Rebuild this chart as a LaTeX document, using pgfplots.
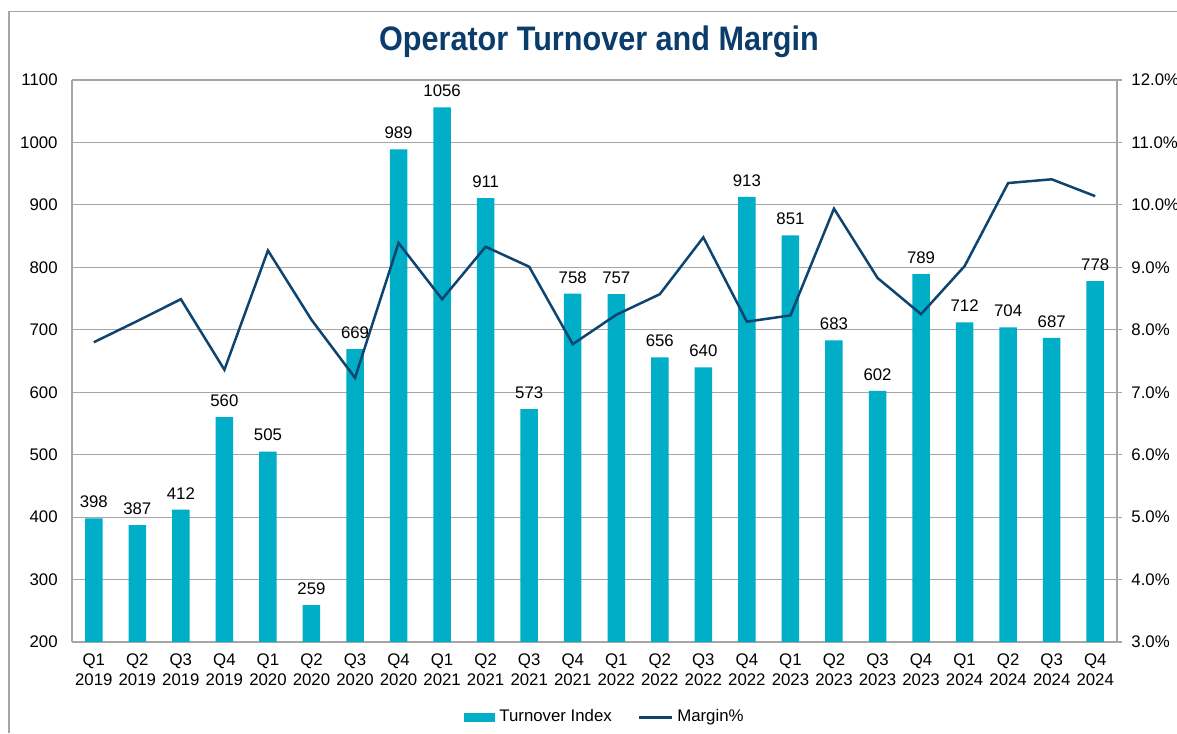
\documentclass[border=0pt]{standalone}
\usepackage{fontspec}
\setmainfont{Liberation Sans}
\newfontfamily\titlefont[FakeStretch=0.9]{Liberation Sans}
\usepackage{pgfplots}
\pgfplotsset{compat=1.18}
\usepackage{pgfplotstable}
\definecolor{barc}{RGB}{0,174,199}
\definecolor{linec}{RGB}{14,68,112}
\definecolor{titlec}{RGB}{10,61,107}
\definecolor{gridc}{RGB}{166,166,166}
\pgfplotstableread{
x turnover margin
0 398 7.80
1 387 8.14
2 412 8.49
3 560 7.36
4 505 9.27
5 259 8.16
6 669 7.23
7 989 9.39
8 1056 8.49
9 911 9.33
10 573 9.01
11 758 7.77
12 757 8.24
13 656 8.57
14 640 9.48
15 913 8.13
16 851 8.23
17 683 9.94
18 602 8.83
19 789 8.25
20 712 9.02
21 704 10.35
22 687 10.41
23 778 10.14
}\datatable
\newcommand{\tf}{\fontsize{8.4}{10}\selectfont}
\begin{document}
\begin{tikzpicture}
\useasboundingbox (-36pt,-45.5pt) rectangle (552.5pt,321pt);
\draw[gridc, line width=0.6pt] (-31.5pt,-45.5pt) -- (-31.5pt,315.2pt) -- (552.5pt,315.2pt);
\node[font=\titlefont\fontsize{17}{19}\selectfont\bfseries, text=titlec] at (263.5pt,300pt) {Operator Turnover and Margin};
\begin{axis}[
  at={(0,0)}, anchor=south west,
  scale only axis, width=522.5pt, height=281pt,
  xmin=-0.5, xmax=23.5, ymin=200, ymax=1100,
  ytick={200,300,...,1100},
  xtick=data,
  xticklabels={{Q1\\2019},{Q2\\2019},{Q3\\2019},{Q4\\2019},{Q1\\2020},{Q2\\2020},{Q3\\2020},{Q4\\2020},{Q1\\2021},{Q2\\2021},{Q3\\2021},{Q4\\2021},{Q1\\2022},{Q2\\2022},{Q3\\2022},{Q4\\2022},{Q1\\2023},{Q2\\2023},{Q3\\2023},{Q4\\2023},{Q1\\2024},{Q2\\2024},{Q3\\2024},{Q4\\2024}},
  xticklabel style={align=center, font=\tf, inner sep=0pt, yshift=-5.5pt},
  yticklabel style={font=\tf, inner sep=0pt, xshift=-7pt},
  /pgf/number format/assume math mode=true,
  /pgf/number format/1000 sep={},
  axis x line*=bottom, axis y line*=left,
  axis line style={gridc, line width=0.6pt},
  major tick length=0pt,
  ymajorgrids, grid style={gridc, line width=0.6pt},
  ybar, bar width=8.75pt,
  nodes near coords,
  nodes near coords style={font=\tf, inner sep=0pt, yshift=5pt, text=black, /pgf/number format/1000 sep={}},
  legend style={draw=none, fill=none, at={(0.511,-0.134)}, anchor=center, font=\tf,
    /tikz/every even column/.append style={column sep=11pt}},
  legend columns=2,
]
\addplot[fill=barc, draw=none,
  legend image code/.code={\fill[barc] (0pt,-2.25pt) rectangle (15.5pt,2.25pt);}]
  table[x=x, y=turnover] {\datatable};
\addlegendentry{Turnover Index}
\addlegendimage{linec, line width=1.25pt, legend image code/.code={\draw[linec, line width=1.25pt] (0pt,0pt) -- (16.5pt,0pt);}}
\addlegendentry{Margin\%}
\end{axis}
\begin{axis}[
  at={(0,0)}, anchor=south west,
  scale only axis, width=522.5pt, height=281pt,
  xmin=-0.5, xmax=23.5, ymin=3, ymax=12,
  axis x line=none, axis y line*=right,
  axis line style={gridc, line width=0.6pt},
  ytick={3,4,...,12},
  yticklabels={3.0\%,4.0\%,5.0\%,6.0\%,7.0\%,8.0\%,9.0\%,10.0\%,11.0\%,12.0\%},
  yticklabel style={font=\tf, inner sep=0pt, xshift=4.5pt},
  tick style={gridc, line width=0.6pt},
  major tick length=2.5pt, tick align=outside,
]
\addplot[linec, line width=1.25pt, mark=none] table[x=x, y=margin] {\datatable};
\end{axis}
\end{tikzpicture}
\end{document}
